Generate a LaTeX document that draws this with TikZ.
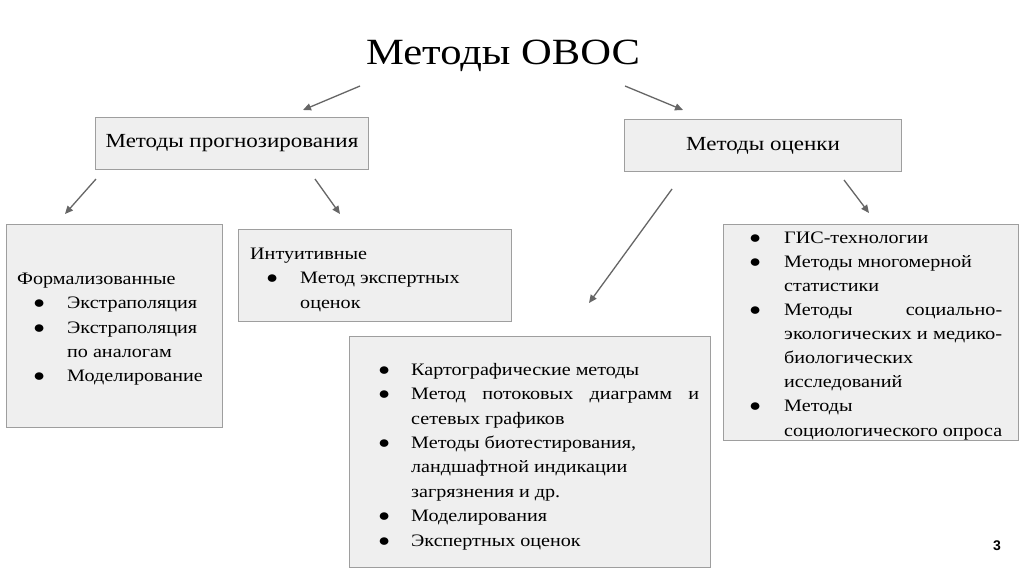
\documentclass[tikz,border=0pt]{standalone}
\usepackage{fontspec}
\usepackage{graphicx}
\setmainfont[FakeStretch=1.15]{Liberation Serif}
\newfontfamily\numfont{Liberation Sans}
\usetikzlibrary{arrows.meta}
\definecolor{boxfill}{HTML}{EFEFEF}
\definecolor{boxline}{HTML}{9E9E9E}
\definecolor{arrowc}{HTML}{666666}
\newcommand{\bb}[1]{\makebox[#1][l]{●}}
\begin{document}
\begin{tikzpicture}[x=1pt,y=-1pt,
  box/.style={draw=boxline,fill=boxfill,line width=1pt,inner sep=0pt,anchor=north west},
  head/.style={font=\fontsize{20}{24}\selectfont},
  body/.style={inner sep=0pt,anchor=north west,align=left,font=\fontsize{17.5}{24.4}\selectfont},
  arr/.style={draw=arrowc,line width=1.3pt,-{Triangle[length=8pt,width=7pt]}}]
\useasboundingbox[fill=white] (0,0) rectangle (1024,574);
% title
\node[anchor=base,font=\fontsize{37}{40}\selectfont] (title) at (503,64) {Методы ОВОС};
% header boxes
\node[box,head,minimum width=273pt,minimum height=52pt] (prog) at (95,117) {Методы прогнозирования};
\node[box,head,minimum width=277pt,minimum height=52pt] (ocen) at (624,119) {Методы оценки};
% content boxes
\node[box,minimum width=216pt,minimum height=203pt] (formal) at (6,224) {};
\node[box,minimum width=273pt,minimum height=92pt] (intuit) at (238,229) {};
\node[box,minimum width=361pt,minimum height=231pt] (mid) at (349,336) {};
\node[box,minimum width=295pt,minimum height=216pt] (right) at (723,224) {};
% texts
\node[body] (formalt) at (17,270) {\rule{0pt}{14pt}Формализованные\\
\hspace*{16pt}\bb{34pt}Экстраполяция\\
\hspace*{16pt}\bb{34pt}Экстраполяция\\
\hspace*{50pt}по аналогам\\
\hspace*{16pt}\bb{34pt}Моделирование};
\node[body] (intuitt) at (250,245) {\rule{0pt}{14pt}Интуитивные\\
\hspace*{16pt}\bb{34pt}Метод экспертных\\
\hspace*{50pt}оценок};
\node[body] (midt) at (378,361) {\rule{0pt}{14pt}\bb{33pt}Картографические методы\\
\bb{33pt}\makebox[288pt][s]{Метод потоковых диаграмм и}\\
\hspace*{33pt}сетевых графиков\\
\bb{33pt}Методы биотестирования,\\
\hspace*{33pt}ландшафтной индикации\\
\hspace*{33pt}загрязнения и др.\\
\bb{33pt}Моделирования\\
\bb{33pt}Экспертных оценок};
\node[body,font=\fontsize{17.5}{24.1}\selectfont] (rightt) at (749,229) {\rule{0pt}{14pt}\bb{35pt}ГИС-технологии\\
\bb{35pt}Методы многомерной\\
\hspace*{35pt}статистики\\
\bb{35pt}\makebox[218pt][s]{Методы социально-}\\
\hspace*{35pt}\resizebox{218pt}{\height}{экологических и медико-}\\
\hspace*{35pt}биологических\\
\hspace*{35pt}исследований\\
\bb{35pt}Методы\\
\hspace*{35pt}\resizebox{218pt}{\height}{социологического опроса}};
% page number
\node[anchor=base,font=\numfont\bfseries\fontsize{14}{16}\selectfont] (pnum) at (997,550) {3};
% arrow ends
\coordinate (t1s) at (360,86); \coordinate (t1e) at (303,110);
\coordinate (t2s) at (625,86); \coordinate (t2e) at (683,110);
\coordinate (p1s) at (96,179); \coordinate (p1e) at (65,214);
\coordinate (p2s) at (315,179); \coordinate (p2e) at (340,214);
\coordinate (o1s) at (672,189); \coordinate (o1e) at (589,303);
\coordinate (o2s) at (844,180); \coordinate (o2e) at (869,213);
\draw[arr] (t1s) -- (t1e);
\draw[arr] (t2s) -- (t2e);
\draw[arr] (p1s) -- (p1e);
\draw[arr] (p2s) -- (p2e);
\draw[arr] (o1s) -- (o1e);
\draw[arr] (o2s) -- (o2e);
\end{tikzpicture}
\end{document}
